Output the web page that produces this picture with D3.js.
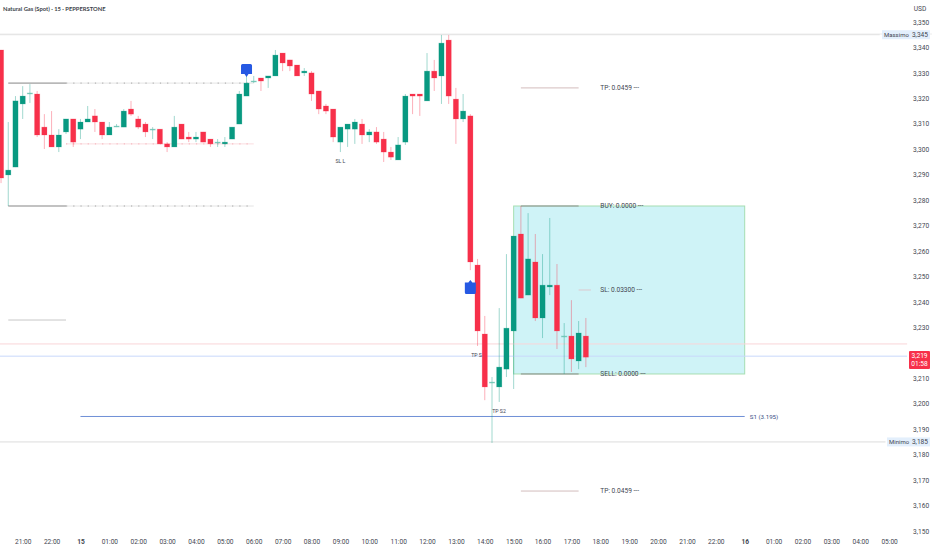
<!DOCTYPE html>
<html><head><meta charset="utf-8">
<script src="https://cdn.jsdelivr.net/npm/d3@7"></script>
<style>html,body{margin:0;padding:0;background:#fff;overflow:hidden}svg{display:block}text{font-family:Roboto,Inter,sans-serif}</style>
</head><body><svg id="c" width="932" height="550"></svg>
<script>
const firstBar = -3;
const opens = [3.3390,3.2899,3.2930,3.3178,3.3221,3.3217,3.3087,3.3056,3.3009,3.3068,3.3119,3.3079,3.3107,3.3131,3.3107,3.3056,3.3091,3.3087,3.3158,3.3119,3.3099,3.3079,3.3079,3.3021,3.3009,3.3099,3.3048,3.3040,3.3068,3.3040,3.3028,3.3021,3.3040,3.3099,3.3209,3.3268,3.3280,3.3280,3.3288,3.3378,3.3351,3.3331,3.3300,3.3300,3.3229,3.3170,3.3158,3.3028,3.3079,3.3079,3.3099,3.3056,3.3068,3.3040,3.2989,3.2958,3.3028,3.3217,3.3217,3.3190,3.3307,3.3288,3.3429,3.3197,3.3119,3.3131,3.2545,3.2274,3.2085,3.2066,3.2136,3.2286,3.2667,3.2427,3.2557,3.2337,3.2459,3.2466,3.2266,3.2266,3.2168,3.2266];
const highs = [3.3390,3.3107,3.3209,3.3248,3.3256,3.3229,3.3138,3.3150,3.3079,3.3119,3.3119,3.3119,3.3170,3.3158,3.3107,3.3107,3.3099,3.3158,3.3190,3.3131,3.3107,3.3087,3.3079,3.3028,3.3131,3.3099,3.3068,3.3068,3.3068,3.3040,3.3040,3.3048,3.3087,3.3229,3.3288,3.3288,3.3280,3.3288,3.3390,3.3378,3.3351,3.3331,3.3319,3.3307,3.3229,3.3178,3.3158,3.3087,3.3099,3.3119,3.3119,3.3079,3.3087,3.3068,3.3009,3.3048,3.3217,3.3217,3.3217,3.3378,3.3351,3.3449,3.3449,3.3241,3.3217,3.3138,3.2569,3.2345,3.2105,3.2376,3.2588,3.2659,3.2777,3.2749,3.2667,3.2588,3.2730,3.2549,3.2317,3.2407,3.2325,3.2337];
const lows = [3.2867,3.2777,3.2930,3.3119,3.3182,3.3048,3.3001,3.3009,3.2989,3.3060,3.3009,3.3040,3.3107,3.3068,3.3040,3.3056,3.3087,3.3087,3.3131,3.3079,3.3048,3.3040,3.3021,3.2989,3.3009,3.3040,3.3028,3.3028,3.3028,3.3009,3.3009,3.3009,3.3040,3.3099,3.3209,3.3260,3.3229,3.3241,3.3288,3.3307,3.3307,3.3288,3.3288,3.3190,3.3138,3.3138,3.3028,3.2989,3.3009,3.3021,3.3021,3.3028,3.3021,3.2950,3.2958,3.2958,3.3017,3.3138,3.3131,3.3190,3.3229,3.3178,3.3178,3.3021,3.3107,3.2525,3.2227,3.2014,3.1846,3.2007,3.2105,3.2058,3.2415,3.2427,3.2325,3.2258,3.2427,3.2215,3.2117,3.2125,3.2136,3.2144];
const closes = [3.2887,3.2918,3.3190,3.3209,3.3221,3.3056,3.3056,3.3009,3.3056,3.3119,3.3028,3.3107,3.3119,3.3107,3.3056,3.3087,3.3091,3.3150,3.3138,3.3087,3.3068,3.3079,3.3021,3.3009,3.3087,3.3040,3.3040,3.3048,3.3028,3.3021,3.3028,3.3028,3.3087,3.3217,3.3260,3.3268,3.3268,3.3288,3.3370,3.3339,3.3327,3.3288,3.3307,3.3217,3.3158,3.3150,3.3048,3.3087,3.3099,3.3107,3.3056,3.3068,3.3028,3.2989,3.2969,3.3017,3.3209,3.3209,3.3209,3.3307,3.3280,3.3417,3.3209,3.3119,3.3150,3.2557,3.2286,3.2066,3.2085,3.2144,3.2297,3.2659,3.2415,3.2569,3.2337,3.2466,3.2466,3.2286,3.2266,3.2176,3.2278,3.2183];

const priceTicks = [3.35,3.34,3.33,3.32,3.31,3.30,3.29,3.28,3.27,3.26,3.25,3.24,3.23,3.21,3.20,3.19,3.18,3.17,3.16,3.15];
const timeLabels = ["21:00","22:00","15","01:00","02:00","03:00","04:00","05:00","06:00","07:00","08:00","09:00","10:00","11:00","12:00","13:00","14:00","15:00","16:00","17:00","18:00","19:00","20:00","21:00","22:00","16","01:00","02:00","03:00","04:00","05:00"];

const highPrice = 3.345, lowPrice = 3.185, lastPrice = 3.219, s1Price = 3.195;
const rangeTop = 3.2777, rangeBottom = 3.2117, tpUpper = 3.3241, tpLower = 3.1657, slLevel = 3.2447;
const leftUpper = 3.3260, leftPink = 3.3021, leftStub = 3.2329, pinkFull = 3.2235, blueFull = 3.2187;

const svg = d3.select("#c");
const x = d3.scaleLinear().domain([0,120]).range([22.7,22.7+7.22*120]);
const y = d3.scaleLinear().domain([3.35,3.15]).range([22,531]);
const fmt = v => d3.format(".3f")(v).replace(".",",");
const UP="#089981", DOWN="#f7304a", TXT="#434651";

function hline(price,i0,i1,col,w,dash){
  svg.append("line").attr("x1",x(i0)).attr("x2",x(i1)).attr("y1",y(price)).attr("y2",y(price))
    .attr("stroke",col).attr("stroke-width",w).attr("stroke-dasharray",dash||null);
}
function label(t,xp,yp,opt={}){
  return svg.append("text").attr("x",xp).attr("y",yp).attr("dy","0.35em").text(t)
    .attr("font-size",opt.size||6.6).attr("fill",opt.fill||TXT).attr("text-anchor",opt.anchor||"start")
    .attr("font-weight",opt.weight||400);
}

// header rule
svg.append("line").attr("x1",0).attr("x2",932).attr("y1",34).attr("y2",34).attr("stroke","#ececec").attr("stroke-width",1);

// range box
svg.append("rect").attr("x",x(68)).attr("y",y(rangeTop)).attr("width",x(100)-x(68)).attr("height",y(rangeBottom)-y(rangeTop))
  .attr("fill","#cff3f7").attr("stroke","#a6deb2").attr("stroke-width",1);

// full-width levels
hline(highPrice,-4,118.7,"#e2e2e2",1);
hline(lowPrice,-4,119.5,"#dcdcdc",1);
hline(pinkFull,-4,122.5,"#f9d5d8",1);
hline(blueFull,-4,122.5,"#c8d8fb",1);
hline(s1Price,8,100,"#6f8fd6",1);

// left zone lines
[leftUpper,rangeTop].forEach(p=>{
  hline(p,-2,6,"#858585",1);
  hline(p,6,32,"#e4e4e4",1);
  hline(p,6,32,"#a5a5a5",1,"1.2 6.02");
});
hline(leftPink,6,32,"#fbdde0",1);
hline(leftPink,6,32,"#f4aeb6",1,"1.2 6.02");
hline(leftStub,-2,6,"#c8c8c8",1);

// trade plan lines
hline(tpUpper,69,77,"#d3bcbc",1);
hline(tpLower,69,77,"#d3bcbc",1);
hline(rangeTop,69,77,"#8d8d8d",1);
hline(rangeBottom,69,77,"#8d8d8d",1);
hline(slLevel,77,78.7,"#ddc8ce",1);

// candles
const bars = opens.map((o,k)=>({i:firstBar+k,o,h:highs[k],l:lows[k],c:closes[k]}));
const col = d=> d.c>=d.o?UP:DOWN;
svg.append("g").selectAll("line").data(bars).join("line")
  .attr("x1",d=>x(d.i)).attr("x2",d=>x(d.i)).attr("y1",d=>y(d.h)).attr("y2",d=>y(d.l))
  .attr("stroke",col).attr("stroke-opacity",.38).attr("stroke-width",1);
svg.append("g").selectAll("rect").data(bars).join("rect")
  .attr("x",d=>x(d.i)-2.6).attr("width",5.2)
  .attr("y",d=>Math.min(y(d.o),y(d.c)))
  .attr("height",d=>Math.max(Math.abs(y(d.o)-y(d.c)),0.9))
  .attr("fill",d=>d.o===d.c?"#8fd3c5":col(d))
  .attr("stroke",col).attr("stroke-opacity",.25).attr("stroke-width",.8);

// markers
function pin(xp,yTop,yBot,tipUp){
  const l=xp-5.5,r=xp+5.5,rad=1.5;
  const p=d3.path();
  if(tipUp){
    p.moveTo(xp,yTop); p.lineTo(xp+2,yTop+2.5); p.lineTo(r,yTop+2.5); p.lineTo(r,yBot-rad); p.quadraticCurveTo(r,yBot,r-rad,yBot);
    p.lineTo(l+rad,yBot); p.quadraticCurveTo(l,yBot,l,yBot-rad); p.lineTo(l,yTop+2.5); p.lineTo(xp-2,yTop+2.5);
  } else {
    p.moveTo(l+rad,yTop); p.lineTo(r-rad,yTop); p.quadraticCurveTo(r,yTop,r,yTop+rad); p.lineTo(r,yBot-3);
    p.lineTo(xp+2,yBot-3); p.lineTo(xp,yBot); p.lineTo(xp-2,yBot-3); p.lineTo(l,yBot-3); p.lineTo(l,yTop+rad); p.quadraticCurveTo(l,yTop,l+rad,yTop);
  }
  p.closePath();
  svg.append("path").attr("d",p.toString()).attr("fill","#2659e3");
}
pin(x(31),y(3.3335),y(3.3284),false);
pin(x(62),y(3.2486),y(3.2431),true);

// annotation text
label("Natural Gas (Spot) · 15 · PEPPERSTONE",3,9,{size:5.8,weight:700,fill:"#3c3f4a"}).style("font-family","Lato");
label("SL L",x(44),161,{size:5.2,anchor:"middle"});
label("TP S",476.5,355,{size:5.2,anchor:"middle"});
label("TP S2",499,411,{size:5.2,anchor:"middle"});
const planX = x(80);
label("TP: 0.0459 ---",planX,y(tpUpper));
label("TP: 0.0459 ---",planX,y(tpLower));
label("BUY: 0.0000 ---",planX,y(rangeTop));
label("SL: 0.03300 ---",planX,y(slLevel));
label("SELL: 0.0000 ---",planX,y(rangeBottom));
label("S1 ("+s1Price.toFixed(3)+")",x(100.7),y(s1Price),{fill:"#3a4f86",size:6.2});

// axes
const yAxis = d3.axisRight(y).tickValues(priceTicks).tickFormat(fmt).tickSize(0).tickPadding(0);
const gy = svg.append("g").attr("transform","translate(913,0)").call(yAxis);
gy.select(".domain").remove();
gy.selectAll("text").attr("font-size",6.6).attr("fill",TXT).style("font-family","Roboto");

const xTickIdx = timeLabels.map((_,k)=>k*4);
const xAxis = d3.axisBottom(x).tickValues(xTickIdx).tickFormat(i=>timeLabels[i/4]).tickSize(0).tickPadding(0);
const gx = svg.append("g").attr("transform","translate(0,539)").call(xAxis);
gx.select(".domain").remove();
gx.selectAll("text").attr("font-size",6.6).attr("fill",TXT).style("font-family","Roboto")
  .attr("font-weight",d=>/^\d\d$/.test(timeLabels[d/4])?700:400);

// price tags
label("USD",920,9,{size:6.6,anchor:"middle"});
function tag(name,price,nameX){
  const yp=y(price);
  svg.append("rect").attr("x",nameX).attr("y",yp-4.5).attr("width",930-nameX).attr("height",9).attr("fill","#e3effc");
  label(name,nameX+2,yp,{size:6});
  label(fmt(price),928,yp,{size:6.6,anchor:"end"});
}
tag("Massimo",highPrice,882);
tag("Minimo",lowPrice,887);
svg.append("rect").attr("x",909).attr("y",351).attr("width",21).attr("height",18).attr("fill","#f7304a").attr("rx",1);
label(fmt(lastPrice),919.5,356,{size:6.6,fill:"#fff",anchor:"middle"});
label("01:58",919.5,364,{size:6.6,fill:"#fff",anchor:"middle"});
</script></body></html>
